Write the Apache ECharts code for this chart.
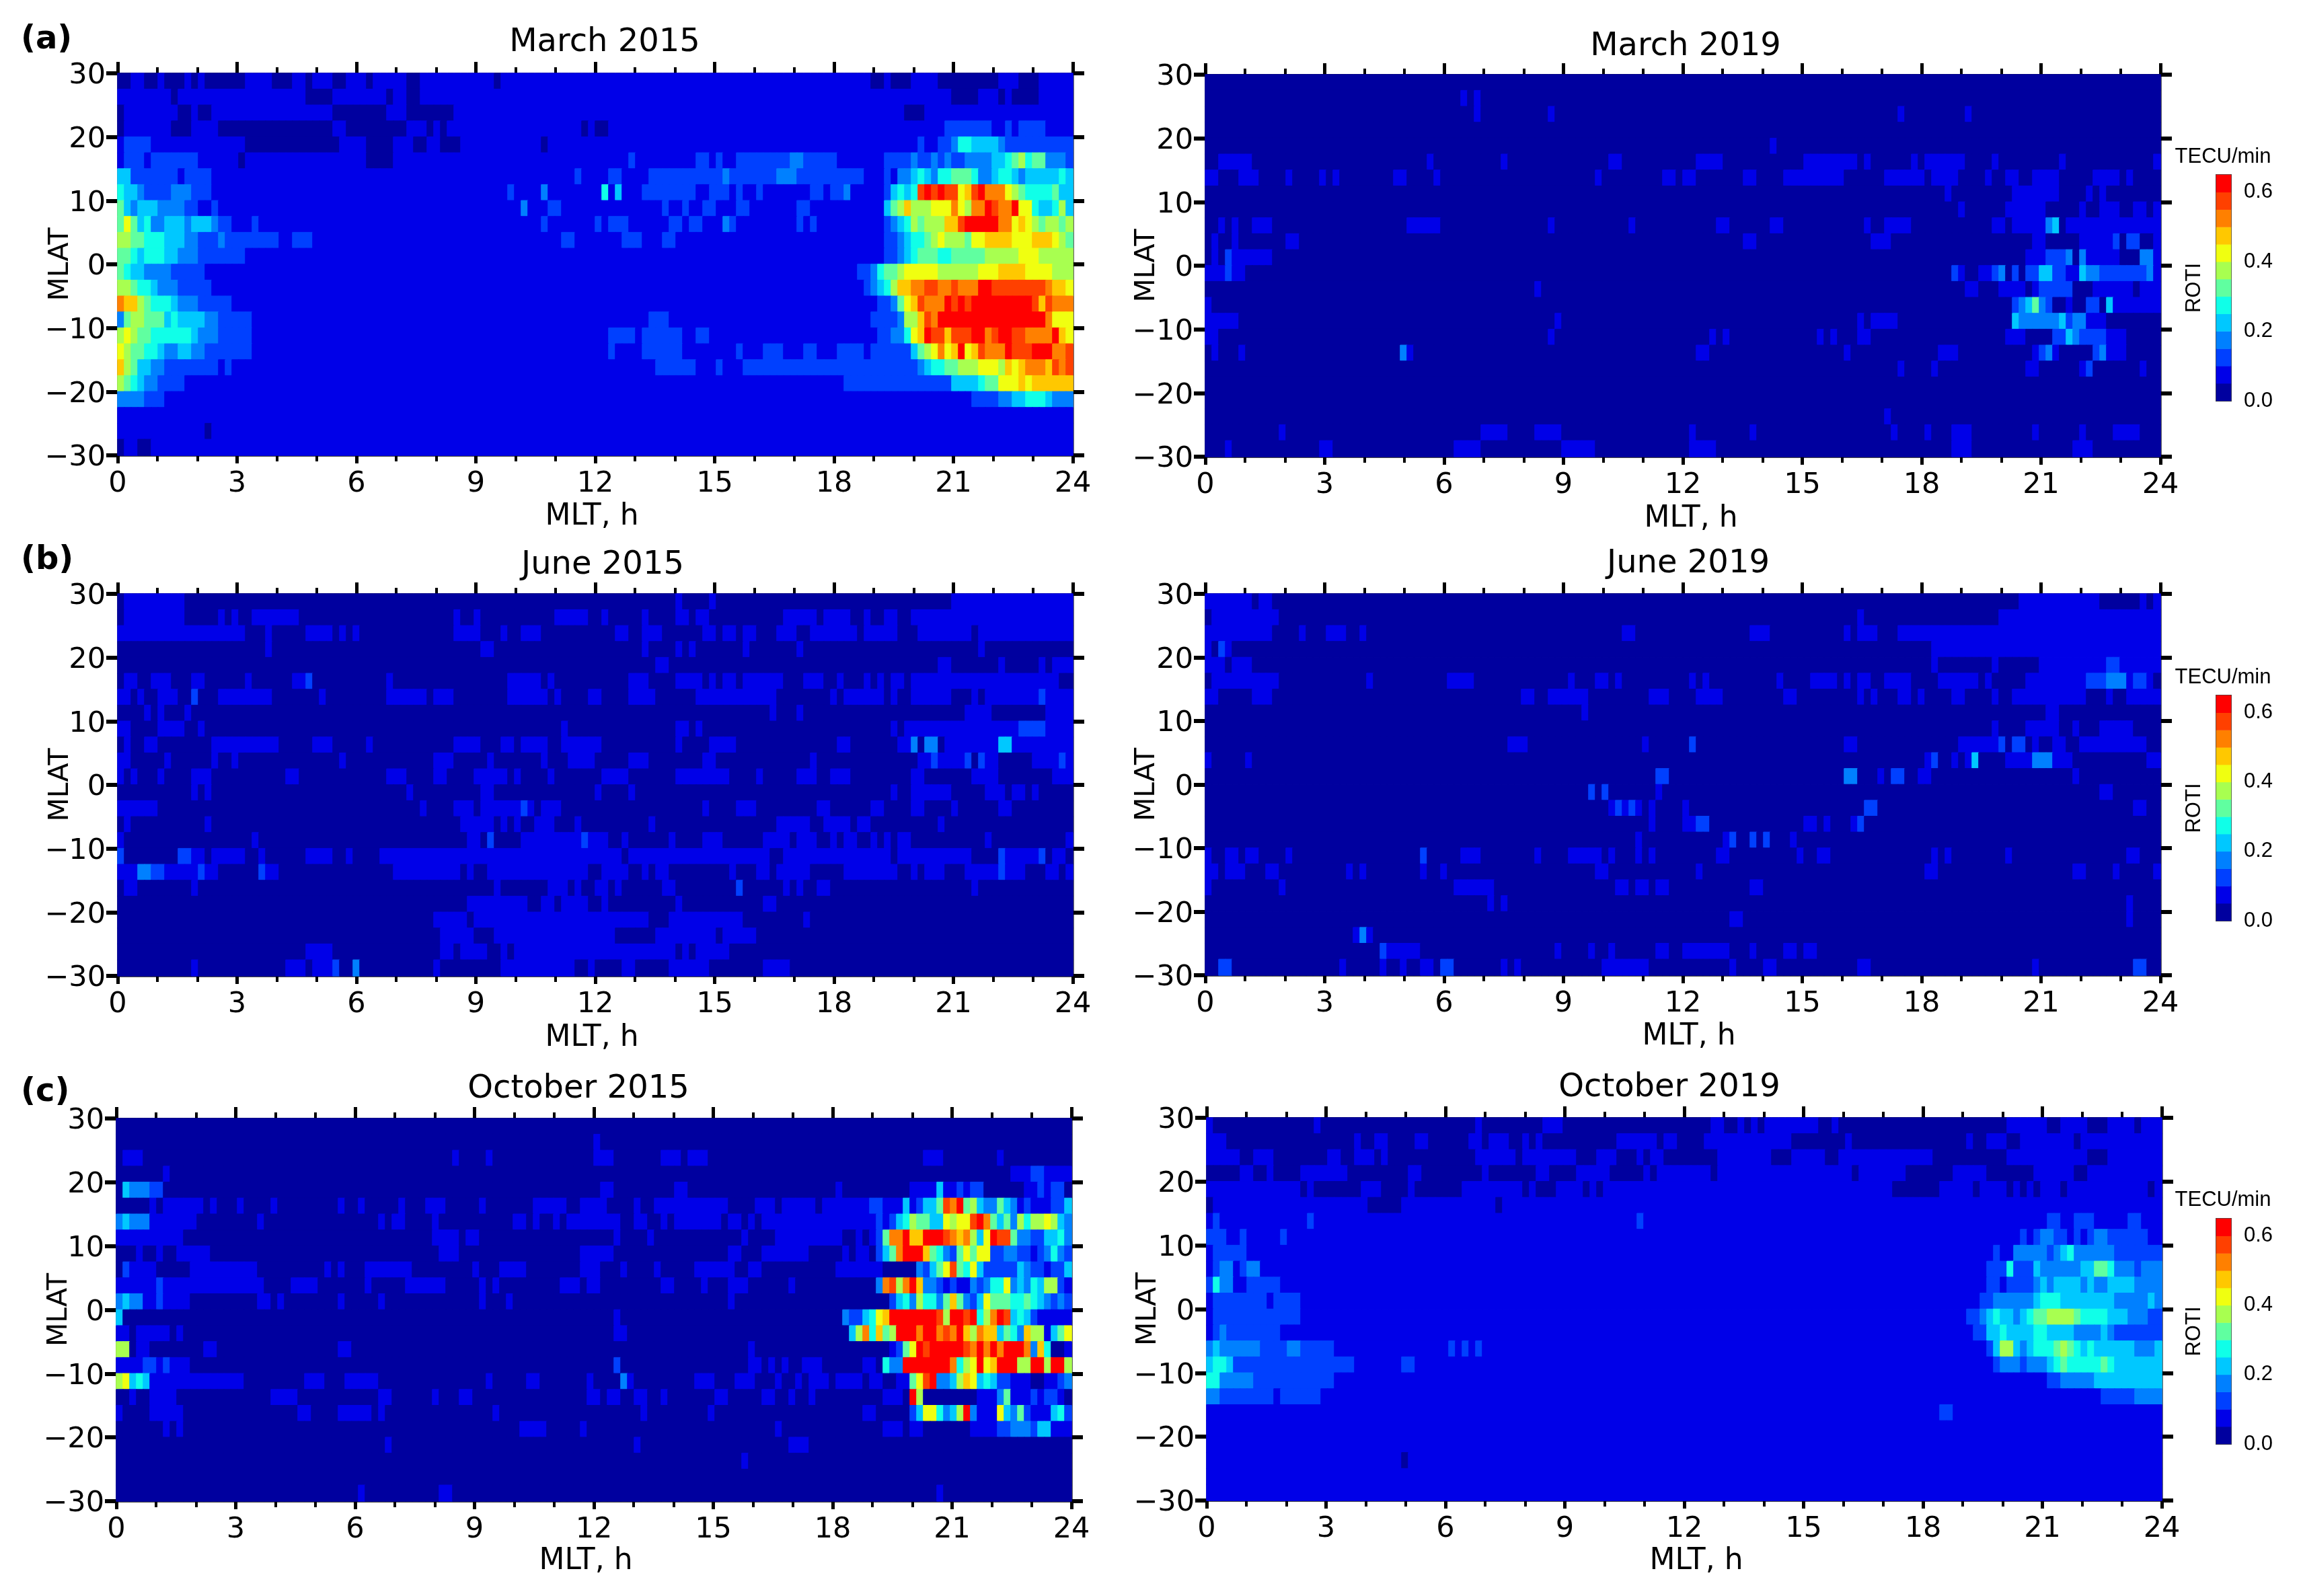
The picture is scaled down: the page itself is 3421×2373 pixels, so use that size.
<!DOCTYPE html>
<html>
<head>
<meta charset="utf-8">
<title>ROTI maps</title>
<style>
  html, body { margin: 0; padding: 0; background: #fff; }
  #chart { width: 3421px; height: 2373px; }
</style>
<script src="https://cdn.jsdelivr.net/npm/echarts@6/dist/echarts.min.js"></script>
</head>
<body>
<div id="chart"></div>
<script>
// ROTI colour bins, 0.05 TECU/min wide
const rotiColors = ['#00009f', '#0000e8', '#0040ff', '#0080ff', '#00c8ff', '#10ffe8', '#60ffa0',
  '#a8ff50', '#f0ff10', '#ffc800', '#ff8000', '#ff4000', '#ff0000'];
const binWidth = 0.05;
const mltBinCount = 142;
const mlatBinCount = 24;

// each row is top (27.5..30) to bottom (-30..-27.5): "base from-to:bin from-to:bin ...", no :bin means bin 1
const march2015 = [
  '1 0-1:0 4-5:0 7-9:0 11:0 13-18:0 23-25:0 28:0 32-33:0 37:0 43-44:0 56:0 112-113:0 115-117:0 122-130:0 134-136:0',
  '1 8:0 28-31:0 40:0 43-44:0 124-127:0 131:0 133-136:0',
  '1 0:0 9-10:0 12-13:0 32-39:0 43-49:0 117-119:0',
  '1 0:0 8-10:0 15-31:0 34-42:0 46:0 48:0 69:0 71-72:0 123-129:2 132:2 134-137:2',
  '1 1-4:2 19-32:0 37-40:0 44-45:0 48-50:0 63:0 119:2 122-123:2 124:3 125-126:5 127-130:4 131:3 132-141:2',
  '1 1-3:2 5-11:2 18:0 37-40:0 76:2 86-87:2 89:2 92-99:2 100-101:3 102-106:2 114-117:2 118:3 119-120:2 121:3 122:2 123:3 124-125:2 126-129:3 130-131:4 132:5 133:6 134:7 135:5 136-137:6 138-140:3 141:2',
  '1 0-1:4 2-8:2 10-13:2 68:2 73-74:2 79-89:2 90:3 91-97:2 98-100:3 101-110:2 114:2 116-117:3 118:4 119:5 120:4 121:3 122-123:5 124-126:6 127:5 128-129:3 130:4 131-132:5 133:4 134:3 135-139:4 140:5 141:4',
  '1 0:5 1-2:4 3:3 4-7:2 8-10:3 11-13:2 58:2 63:3 72:5 74:4 78-85:2 88-90:2 92:2 95:2 103-104:2 106-107:2 108:3 114:2 115:4 116:5 117:4 118:5 119:11 120:12 121:11 122:12 123-124:11 125:8 126:9 127:11 128:12 129-131:10 132:8 133:7 134:6 135-138:5 139:6 140-141:4',
  '1 0:6 1:4 2:3 3-5:4 6-9:3 10-11:2 14:2 60:3 64-65:2 81:2 84:2 87-88:2 92-93:2 101-102:2 114:4 115:6 116:7 117:9 118-120:7 121-123:8 124:10 125:8 126:7 127-128:10 129:12 130:11 131-132:10 133:12 134-135:8 136:5 137-138:4 139:5 140:7 141:4',
  '1 0:6 1:8 2:6 3:4 4:5 5-6:3 7-9:4 10:3 11-13:4 14:3 15-16:2 20:2 63:2 71:2 73-75:2 82-83:2 85-86:2 90:3 91:2 101:2 103:2 114:2 115:3 116:4 117:5 118:7 119:6 120-122:7 123-124:9 125:11 126-130:12 131-132:10 133:8 134:9 135:8 136:7 137:6 138-139:7 140:6 141:7',
  '1 0-1:7 2-3:6 4-6:5 7-9:4 10-11:3 12-14:2 15:3 16-23:2 26-28:2 66-67:2 75-77:2 81-82:2 114-115:2 116:3 117:4 118-119:5 120:6 121:7 122:8 123-125:7 126:6 127-128:8 129-132:9 133-135:8 136-138:9 139:8 140:7 141:6',
  '1 0-1:6 2:5 3:4 4-6:5 7-8:4 9-11:3 12-18:2 114-115:2 116:3 117:4 118:5 119-121:6 122-123:5 124-128:6 129-133:7 134-136:8 137-141:7',
  '1 0:6 1:5 2-3:4 4-7:3 8-12:2 110-111:2 112:3 113:5 114-115:6 116:7 117-121:8 122-127:7 128-130:8 131-134:9 135-138:8 139-141:7',
  '1 0-1:7 2:6 3-4:5 5:4 6-8:3 9-13:2 111:2 112:3 113:4 114:5 115:7 116-117:9 118-119:10 120-121:11 122-123:10 124:11 125-127:10 128-129:12 130-137:11 138:10 139-140:9 141:8',
  '1 0:10 1-2:9 3:7 4:6 5-7:5 8:4 9-11:3 12-16:2 113-114:2 115:3 116:6 117:8 118:9 119:11 120-122:10 123:12 124:11 125:12 126:11 127-135:12 136:11 137:9 138:11 139-141:10',
  '1 0:3 1:6 2-3:7 4-6:6 7:4 8:5 9-12:4 13-14:3 15-19:2 79-81:2 112-115:2 116:3 117-118:7 119:9 120:11 121:10 122-137:12 138:10 139-141:8',
  '1 0:7 1:8 2:7 3-4:6 5-10:5 11:4 12-14:3 15-19:2 73-76:2 78-83:2 86-87:2 113-114:2 115-116:3 117:5 118:8 119:9 120:12 121-122:11 123:9 124-126:11 127-128:12 129:10 130:11 131-132:12 133-134:11 135-138:10 139:12 140:9 141:8',
  '1 0:8 1:7 2-3:6 4-5:5 6:4 7-8:3 9-10:4 11-12:3 13-19:2 73:2 78-83:2 92:2 96-98:2 102-103:2 107-110:2 112-117:2 118:4 119:6 120:7 121:8 122:10 123:8 124:9 125:12 126:8 127:9 128:11 129-131:10 132:12 133-135:11 136-138:12 139-140:10 141:11',
  '1 0:9 1:7 2:6 3-4:4 5-6:3 7-14:2 16:2 80-85:2 89:2 93-95:2 96-98:2 99-102:2 103-118:2 119:3 120:4 121-122:5 123-124:6 125-127:7 128-130:8 131:7 132:9 133:8 134:9 135-137:10 138:9 139:11 140:10 141:11',
  '1 0:7 1:6 2:5 3:4 4-5:3 6-9:2 108-123:2 124-127:4 128:5 129-130:6 131-133:8 134:9 135:8 136-141:9',
  '1 0-3:3 4-6:2 127-130:2 131-132:3 133-134:4 135-137:5 138:4 139-141:3',
  '1',
  '1 13:0',
  '1 0:0 3-4:0'
];
const march2019 = [
  '0',
  '0 38 40',
  '0 40 51 103 113',
  '0',
  '0 84',
  '0 2-6 33 44 60-61 73-76 89-96 98 105 107-112 117 127 141',
  '0 0-1 5-7 12 17 19 28-29 34 58 68-69 71-72 80-81 86-94 101-106 108-111 116 119-120 123-126 132-135 137',
  '0 110 120-126 131 133',
  '0 112 119-124 130 133-135 138-139 141',
  '0 2 4 7-9 30-34 51 63 76-77 84-85 98 101-104 117-118 120-124 125:3 126:4 128-141',
  '0 1 4 12-13 80-81 99-101 123-124 130-134 135:2 137-138:2 141',
  '0 1 3:2 4-9 122-124 125-127:2 128:3 130:3 131-135 139-140:3 141',
  '0 0-5 3:2 111:2 112 115-116 117:2 118:3 120:2 122-123:2 124-125:4 126-127:2 128-129 130:4 131-132:3 133-139:2 140:3 141',
  '0 49 113-114 118-121 123 124-128:2 132-133 134-137 139-141',
  '0 0 120:2 121:3 122:4 123:6 124:3 125:2 128 131-132:2 134:4 135-141',
  '0 0-4 52 97 99-102 120:4 121-126:3 127:4 128:2 129-130:3 131-133',
  '0 0-1 51 75 77 91 93 97-98 119-121 126-127:2 128:4 129:3 130-133:2 134-136',
  '0 1 5 29:3 30 73-74 95 109-111 123 124:2 125:3 126 132:2 133:3 134-136',
  '0 103 108 122-123 130 131:2 139',
  '0',
  '0',
  '0 101',
  '0 11 41-44 49-52 72 81 102 107 111-113 123 130 135-138',
  '0 3 17-18 37-40 53-57 72-75 111-113 129-131'
];
const june2015 = [
  '0 1-9 83 88 124-141',
  '0 1-9 15 17 20-26 50 53 65-69 72 78 83-84 86-87 99-103 105-108 111 114-115 118-141',
  '0 0-18 22 28-31 33 35 50-53 57 60-62 74-75 78-80 87-88 90-91 93-94 98-100 103-109 111-115 119-126 128-141',
  '0 22 54-55 78 83 85 93 101 128',
  '0 80-81 122-123 131 137 139-141',
  '0 1-2 5-7 11-12 19 26-27 28:2 40 58-62 64 76-78 83-86 88 90-91 93-98 102-104 107 111 113 115-116 118-139',
  '0 0-1 3 6-8 11:2 15-22 30 40-45 47-49 58-63 65 70-71 76-79 86 87-97 106 108-113 115 118-123 127 129-136 137:2 138-141',
  '0 4 6 10 97 101 126-129 138-141',
  '0 0-1 6-9 12 66 83-84 86 115 117-133 134-137:2 138-141',
  '0 1 4-5 14-17 18-22 23 29-31 37 50-53 57-58 60-63 66-71 83 88-91 107-108 116-117 118:3 120-121:3 123-130 131-132:4 133-141',
  '0 0-1 7 14 17 33 47-49 55 63 67-70 76-78 87-88 103 119-120 121:2 122-125 126:2 128:2 129-130 136-139 140:2 141',
  '0 0 2 6 11-13 25-26 40-42 47-48 53-57 59 64 72-75 83-90 95 101-103 106-108 118-119 127-130 139-141',
  '0 11 13 43 54-55 71 76 115 118-123 129-131 133-134 136',
  '0 0-5 45 50-52 54-59 60:2 61 63-65 87 92-94 104-105 112-113 118-119 124 131-132',
  '0 1 13 51-55 57 59 62-64 68 79 98-102 105-108 110-111 122',
  '0 0 20 52-53 55:2 60-68 69:2 70-72 75 82 87-89 96-99 101-103 106 108-109 112 114 116-117 129 141',
  '0 0:2 9-10:2 11-12 14-18 21 28-31 34 39-42 43-74 76-96 99-114 116-126 131:2 132-136 137:2 139-140',
  '0 0-2 3-4:3 5-6:2 7-11 12:2 13-14 21:2 22-23 41-48 49-50 52 55-69 72 73-75 78 80-81 91 95-96 98-102 108-115 118 120-122 126-130 131:2 132-134 138-139 141',
  '0 1-2 11 56 64-66 68 71-72 74 81-82 92:2 99 101 104-105 127',
  '0 52-60 63-64 66-69 72 83 96-97',
  '0 47-51 53-78 82-92 102',
  '0 48-52 56-73 80-88 90-94',
  '0 28-31 48-49 51-54 57 59-70 71-82 84 86-90',
  '0 11 25-27 29-31 32:2 35:3 47 57-67 70 75-76 82-87 96-99'
];
const june2019 = [
  '0 0-5 6 8-9 121-132 139 141',
  '0 1-10 97 118-141',
  '0 0-9 14 18-20 23 62-63 81-83 95 97-99 103-141',
  '0 0 2:2 3 108-141',
  '0 0-2 4-6 108 117 124-133 134-135:2 136-141',
  '0 1-10 24 36-39 54 58-59 61 72 74 85 90-93 95 97-98 101-104 109-114 116 122-130 131-133:2 134-136:3 137 138-139:2 140',
  '0 0-1 7-9 47-48 51-55 56 66-68 73-76 86-87 97 99 103-104 106 111-112 117 120-130 134 137-141',
  '0 56 125-126',
  '0 117 122-126 129 133-137',
  '0 45-47 65 72:2 95-96 112-117 118:2 120-121:2 123 126-127 130-139',
  '0 0 6 107 108:2 111 113 114:4 119-122 123-125:3 126-128 140-141',
  '0 67-68:2 95-96:3 100 102-103:2 106-107 129',
  '0 57:2 59:2 67 133-134',
  '0 60-64 61:2 63:2 66 71 98-99:2 138-139',
  '0 66 71-72 73-74:2 89-90 92 96 97:2',
  '0 64 77 78:2 81:2 83:2 87',
  '0 0 3-4 6-7 12 32:2 38-40 49 54-58 60 64 66 76-77 88 91-92 108 110 119 137-138',
  '0 0-1 3-5 9-10 21 23 32 35 58-59 73 107-108 129-130 135 141',
  '0 0 11 37-42 61-62 64-65 67-68 81-82',
  '0 42 44 137',
  '0 78-79 137',
  '0 22 23:3 24',
  '0 26:2 27-31 52 57 60 67-68 71-77 81 86-87 89-90',
  '0 2-3:2 20 26 29 32-33 35-36:2 44 46 59-65 78 83-84 97-98 123 138-139:2'
];
const october2015 = [
  '0',
  '0 71',
  '0 1-3 50 55 71-73 81-83 85-87 120-122 131',
  '0 7 133-135 136-137:2 138-141',
  '0 1:4 2-4:3 5-6:2 72-73 83-84 107 118-121 122:4 123-124 125:2 126 127-128:2 135-136 137:2 138 139-140:2',
  '0 5 7-12 14 18 23 33 36 42 46-48 54 62-66 69-72 77 80-90 95-97 99-103 105-111 112-113:2 114-116 117:4 118 119:2 120-121:4 122:6 123:11 124:10 125:12 126:6 127:7 128:4 129-130:3 131:6 132:4 133:3 134 135:2 136-138 139-140:2 141:4',
  '0 0:3 1:4 2-4:3 5-11 21 39 41-42 47 59-60 62 65 67-74 77-78 81 83-89 91-92 94 96-112 113:2 114 115:2 116:4 117:5 118:7 119-120:6 121-122:4 123:8 124:7 125-126:8 127:11 128:12 129:10 130:6 131:4 132:6 133:3 134:7 135:5 136-137:7 138:8 139:7 140:4 141:3',
  '0 0-9 47-50 52-53 74 79 93 98-107 110 112 113:2 114:6 115-116:10 117:12 118-119:9 120-122:12 123:11 124:10 125:9 126:10 127:7 128:4 129:8 130:12 131-132:11 133:6 134-135:3 136-137:2 138-139:4 140:5 141:3',
  '0 3 6 9-13 48-50 69-73 91-92 96-102 108 110-111 113:2 114:4 115:6 116:10 117-119:12 120:9 121:6 122:5 123:3 124:2 125:6 126:8 127:6 128-129:8 130-131:2 132-133:3 134-135:2 136 137:2 138:3 139:5 140:3 141:2',
  '0 1:2 2-5 11-20 31 33 37-43 53 57-60 69-71 75 80 86-91 94-95 107-113 119:3 120:2 121:4 122:6 123:8 124:11 125:6 126:5 127:8 128:4 129-133:2 134:4 135:3 136-137:2 138 139-140:2 141:4',
  '0 0-5 6:2 7-20 21 26-29 37 43-48 54 56 66-68 70-71 81-82 87 91-93 100 113:3 114:10 115:11 116:7 117:10 118:12 119:9 120-121:3 122:2 123 124:2 125-126 127:3 128:2 129:3 130-131:5 132:8 133:3 134:4 135:3 136:5 137:4 138-139:7 140:2 141',
  '0 0:3 1:4 2-3:3 4-5 6:2 7-10 21-22 24 33 39 54 58 91 115:2 116:4 117:5 118:3 119:7 120-121:5 122:3 123:6 124:9 125:6 126:3 127:2 128:4 129:8 130-132:6 133-134:5 135:6 136:5 137:4 138:3 139:2 140:3 141:2',
  '0 0:4 74 108:3 109-110:2 111:4 112:5 113:8 114:9 115-121:12 122:11 123:7 124-125:12 126:11 127:12 128:5 129:7 130:10 131:12 132:11 133:4 134:5 135:4 136:2 137-141',
  '0 0-1 3-7 9 74-75 109:4 110:7 111:10 112:5 113:9 114:6 115:7 116-118:12 119:10 120-121:12 122:10 123:11 124:10 125:12 126:9 127:7 128:10 129-130:9 131:4 132:6 133:5 134:3 135:9 136-137:7 138 139:4 140:6 141:8',
  '0 0-1:7 3-4 13-14 33-34 94 115 116:2 117:6 118:8 119:12 120:11 121-125:12 126:11 127:10 128:12 129:10 130:12 131:10 132-134:12 135:10 136:3 137:9 138:5 141',
  '0 0-3 4-5:2 6 7:2 8-10 74:2 94-95 97 99 102-104 111-112 114:5 115-116:3 117-123:12 124:10 125:5 126:7 127:8 128:12 129:8 130:9 131-133:12 134-135:7 136-137:12 138:7 139-140:12 141:7',
  '0 0:7 1:8 2:4 3:5 4:4 5-18 28-30 34-36 37-38 55 61-62 70 75:3 76 86-88 92-94 98 101 103-105 107-110 112-113 116-117 118:6 119:8 120:11 121:12 122-123:3 124:4 125:7 126:9 127:8 128:4 129:5 130:4 131-132:2 133-135 138-139 140:2 141:3',
  '0 2 5-8 23-26 39-40 47 51-52 70-71 73-74 77-78 81 89-90 96-97 100 103 114-116 118:12 119:7 128-130 131:3 132:6 133-135 136:2 137 138-139:2 140',
  '0 0 5-9 27-28 33-37 39 56 78 88 111-112 118:2 119:4 120-121:8 122:5 123:3 124:4 125:7 126:12 127:3 128-130 131:8 132:4 133:3 134:6 135:2 136-138 139:4 140:5 141:2',
  '0 7 9 60-63 69 98 114-116 118-119 127-130 131-132:2 133-135:3 136:2 137-138:4 139-141',
  '0 40 77 100-102',
  '0 93',
  '0',
  '0 36 48-49 122'
];
const october2019 = [
  '0 0 16 40 50-52 75-76 79 81 83-90 93 119-124 127-130 134-137 139-141',
  '0 0-2 22 25-26 31-32 39-40 42-44 47 49 61-66 68-69 74-86 95 113 116-118 121-128 130-141',
  '0 0-4 7-9 18-19 22-24 26 40-45 47-54 58-60 64 66-67 76-83 87-91 94-96 97-100 101-107 119-130 134-141',
  '0 5-6 9 14-20 30-31 41 49-50 55-59 65 67-74 76-95 97-103 111-115 123-128 131-141',
  '1 14:0 16-22:0 26-29:0 31-37:0 47:0 49-51:0 56:0 58:0 102-108:0 114:0 119:0 121:0 123:0 127:0 140:0',
  '1 0:0 24-28:0 43:0',
  '1 1:2 15:2 64:2 125-126:2 129-131:2 137-138:2',
  '1 0-2:2 5:2 11:2 121:2 123:2 124-125:3 126-127:2 129:2 131:2 132-133:3 134-139:2',
  '1 1-5:2 117:2 120-124:3 125:2 126:3 127:4 128:5 129-134:3 135-141:2',
  '1 1:2 2-3:3 5:2 6-7:3 116-118:2 119:5 120-122:2 123:4 124-129:3 130-131:4 132-133:6 134:5 135-137:3 138:2 139-141:3',
  '1 0:2 1:5 2-3:3 6-10:2 116-117:2 119-122:2 123:3 124:4 125:3 126-129:4 130:3 131:4 132-133:3 134-137:4 138-141:3',
  '1 1-8:2 10-13:2 115-116:2 117-122:3 123:4 124-126:5 127-134:4 135-139:3 140:4 141:3',
  '1 1-13:2 113-114:2 115:3 116:4 117:5 118-119:4 120:3 121:4 122:5 123-124:6 125-128:7 129:6 130-133:5 134-136:4 137-139:3 140-141:2',
  '1 1:2 2:3 3-10:2 114-115:2 116-117:4 118:5 119-122:4 123-124:5 125-128:4 129-132:3 133:4 134:3 135-141:2',
  '1 0:3 1:4 2-7:3 8-11:2 12-13:3 14-18:2 36:2 38:2 40:2 116:2 117:4 118-119:7 120:4 121:3 122:4 123-125:5 126:6 127:7 128:6 129:5 130:4 131:5 132-137:4 138-140:3 141:4',
  '1 0:4 1-2:5 3:4 4-6:2 7-21:2 29-30:2 117:2 118-120:3 121:2 122-124:3 125:4 126:5 127:6 128-132:5 133:6 134:5 135-141:4',
  '1 0-1:5 2-6:3 7-18:2 125-126:2 127-131:3 132-141:4',
  '1 0-1:3 2-9:2 11-16:2 133-137:2 138-141:3',
  '1 109-110:2',
  '1',
  '1',
  '1 29:0',
  '1',
  '1'
];

const colorbarTicks = [0, 0.2, 0.4, 0.6];

// panels in reading order, px boxes
const panels = [
  { title: 'March 2015', rows: march2015, left: 175, right: 1595, top: 109, bottom: 677, titleX: 899, titleY: 64, nameShift: -5, nameGap: 70, mlatGap: 64 },
  { title: 'March 2019', rows: march2019, left: 1792, right: 3212, top: 111, bottom: 679, titleX: 2506, titleY: 70, nameShift: 12, nameGap: 71, mlatGap: 66 },
  { title: 'June 2015', rows: june2015, left: 175, right: 1595, top: 883, bottom: 1451, titleX: 896, titleY: 841, nameShift: -5, nameGap: 71, mlatGap: 64 },
  { title: 'June 2019', rows: june2019, left: 1792, right: 3212, top: 883, bottom: 1450, titleX: 2510, titleY: 839, nameShift: 9, nameGap: 70, mlatGap: 66 },
  { title: 'October 2015', rows: october2015, left: 173, right: 1593, top: 1663, bottom: 2232, titleX: 860, titleY: 1620, nameShift: -12, nameGap: 68, mlatGap: 64 },
  { title: 'October 2019', rows: october2019, left: 1794, right: 3214, top: 1662, bottom: 2231, titleX: 2482, titleY: 1618, nameShift: 18, nameGap: 69, mlatGap: 66 }
];
const letters = [
  { text: '(a)', x: 31, y: 60 },
  { text: '(b)', x: 31, y: 834 },
  { text: '(c)', x: 31, y: 1625 }
];
const colorbars = [
  { top: 260, bottom: 596, unitY: 233 },
  { top: 1034, bottom: 1369, unitY: 1007 },
  { top: 1812, bottom: 2147, unitY: 1784 }
];

const mainFont = 'DejaVu Sans';
const barFont = 'Liberation Sans';

const mltBins = Array.from({ length: mltBinCount }, (_, i) => i);
const mlatBins = Array.from({ length: mlatBinCount }, (_, i) => i);

function decodeRows (rows) {
  const out = [];
  rows.forEach((row, r) => {
    const tokens = row.split(' ');
    const cells = new Array(mltBinCount).fill(+tokens[0]);
    tokens.slice(1).forEach(tok => {
      const parts = tok.split(':');
      const range = parts[0].split('-');
      const from = +range[0];
      const to = range.length > 1 ? +range[1] : from;
      const bin = parts.length > 1 ? +parts[1] : 1;
      for (let c = from; c <= to; c++) {
        cells[c] = bin;
      }
    });
    cells.forEach((bin, c) => {
      // same coloured border closes the hairlines between cells
      out.push({
        value: [c, mlatBinCount - 1 - r, (bin + 0.5) * binWidth],
        itemStyle: { borderWidth: 1, borderColor: rotiColors[bin] }
      });
    });
  });
  return out;
}

const blackTick = w => ({ color: '#000', width: w });

const option = {
  backgroundColor: '#fff',
  animation: false,
  title: [],
  grid: [],
  xAxis: [],
  yAxis: [],
  series: [],
  visualMap: {
    show: false,
    type: 'piecewise',
    dimension: 2,
    pieces: rotiColors.map((c, i) => ({ min: i * binWidth, max: (i + 1) * binWidth, color: c }))
  }
};

panels.forEach(p => {
  const g = option.grid.length;
  option.grid.push({
    left: p.left,
    top: p.top,
    width: p.right - p.left,
    height: p.bottom - p.top,
    containLabel: false
  });
  option.title.push({
    text: p.title,
    left: p.titleX,
    top: p.titleY,
    padding: 0,
    textAlign: 'center',
    textVerticalAlign: 'middle',
    textStyle: { fontFamily: mainFont, fontSize: 48, fontWeight: 'normal', color: '#000' }
  });

  // hidden band axes carry the cells, the value axes below carry ticks and labels
  const catX = option.xAxis.length;
  option.xAxis.push({ gridIndex: g, type: 'category', show: false, position: 'bottom', data: mltBins });
  const catY = option.yAxis.length;
  option.yAxis.push({ gridIndex: g, type: 'category', show: false, position: 'left', data: mlatBins });

  const shift = p.nameShift;
  option.xAxis.push({
    gridIndex: g,
    type: 'value',
    position: 'bottom',
    min: 0,
    max: 24,
    interval: 3,
    name: 'MLT, h',
    nameLocation: 'middle',
    nameGap: p.nameGap,
    nameMoveOverlap: false,
    nameTextStyle: {
      fontFamily: mainFont,
      fontSize: 44,
      color: '#000',
      padding: shift > 0 ? [0, 0, 0, 2 * shift] : [0, -2 * shift, 0, 0]
    },
    axisLine: { onZero: false, lineStyle: { color: '#444', width: 3 } },
    axisTick: { length: 12, lineStyle: blackTick(5) },
    minorTick: { show: true, splitNumber: 3, length: 9, lineStyle: blackTick(4) },
    splitLine: { show: false },
    axisLabel: { margin: 21, fontFamily: mainFont, fontSize: 43, color: '#000' }
  });
  option.xAxis.push({
    gridIndex: g,
    type: 'value',
    position: 'top',
    min: 0,
    max: 24,
    interval: 3,
    axisLine: { onZero: false, lineStyle: { color: '#000', width: 3 } },
    axisTick: { length: 17, lineStyle: blackTick(5) },
    minorTick: { show: true, splitNumber: 3, length: 9, lineStyle: blackTick(4) },
    splitLine: { show: false },
    axisLabel: { show: false }
  });
  option.yAxis.push({
    gridIndex: g,
    type: 'value',
    position: 'left',
    min: -30,
    max: 30,
    interval: 10,
    name: 'MLAT',
    nameLocation: 'middle',
    nameRotate: 90,
    nameGap: p.mlatGap,
    nameMoveOverlap: false,
    nameTextStyle: { fontFamily: mainFont, fontSize: 41, color: '#000' },
    axisLine: { onZero: false, lineStyle: { color: '#666', width: 3 } },
    axisTick: { length: 17, lineStyle: blackTick(6) },
    splitLine: { show: false },
    axisLabel: {
      margin: 18,
      // thin line box hung from the tick: labels sit slightly under their ticks, as in the source
      verticalAlign: 'top',
      lineHeight: 8,
      fontFamily: mainFont,
      fontSize: 43,
      color: '#000',
      formatter: v => String(v).replace('-', '\u2212')
    }
  });
  option.yAxis.push({
    gridIndex: g,
    type: 'value',
    position: 'right',
    min: -30,
    max: 30,
    interval: 10,
    axisLine: { onZero: false, lineStyle: { color: '#666', width: 3 } },
    axisTick: { length: 17, lineStyle: blackTick(6) },
    splitLine: { show: false },
    axisLabel: { show: false }
  });

  option.series.push({
    type: 'heatmap',
    name: p.title,
    xAxisIndex: catX,
    yAxisIndex: catY,
    data: decodeRows(p.rows),
    progressive: 0,
    silent: true,
    z: 1
  });
});

colorbars.forEach(b => {
  const g = option.grid.length;
  option.grid.push({
    show: true,
    left: 3295,
    top: b.top,
    width: 22,
    height: b.bottom - b.top,
    borderColor: '#444',
    borderWidth: 2,
    backgroundColor: 'transparent'
  });
  option.title.push({
    text: 'TECU/min',
    left: 3305,
    top: b.unitY,
    padding: 0,
    textAlign: 'center',
    textVerticalAlign: 'middle',
    textStyle: { fontFamily: barFont, fontSize: 31, fontWeight: 'normal', color: '#000' }
  });
  const catX = option.xAxis.length;
  option.xAxis.push({ gridIndex: g, type: 'category', show: false, data: ['ROTI'] });
  const catY = option.yAxis.length;
  option.yAxis.push({ gridIndex: g, type: 'category', show: false, position: 'left', data: rotiColors.map((c, i) => i) });
  option.yAxis.push({
    gridIndex: g,
    type: 'value',
    position: 'right',
    min: 0,
    max: rotiColors.length * binWidth,
    interval: colorbarTicks[1] - colorbarTicks[0],
    axisLine: { show: false, onZero: false },
    axisTick: { show: false },
    splitLine: { show: false },
    axisLabel: {
      margin: 19,
      fontFamily: barFont,
      fontSize: 31,
      color: '#000',
      formatter: v => v.toFixed(1)
    }
  });
  option.yAxis.push({
    gridIndex: g,
    type: 'value',
    position: 'left',
    min: 0,
    max: rotiColors.length * binWidth,
    name: 'ROTI',
    nameLocation: 'middle',
    nameRotate: 90,
    nameGap: 17,
    nameMoveOverlap: false,
    nameTextStyle: { fontFamily: barFont, fontSize: 31, color: '#000' },
    axisLine: { show: false, onZero: false },
    axisTick: { show: false },
    splitLine: { show: false },
    axisLabel: { show: false }
  });
  option.series.push({
    type: 'heatmap',
    name: 'ROTI scale',
    xAxisIndex: catX,
    yAxisIndex: catY,
    data: rotiColors.map((c, i) => [0, i, (i + 0.5) * binWidth]),
    progressive: 0,
    silent: true
  });
});

letters.forEach(l => {
  option.title.push({
    text: l.text,
    left: l.x,
    top: l.y,
    padding: 0,
    textAlign: 'left',
    textVerticalAlign: 'middle',
    textStyle: { fontFamily: mainFont, fontSize: 48, fontWeight: 'bold', color: '#000' }
  });
});

const chart = echarts.init(document.getElementById('chart'));
chart.setOption(option);
</script>
</body>
</html>
